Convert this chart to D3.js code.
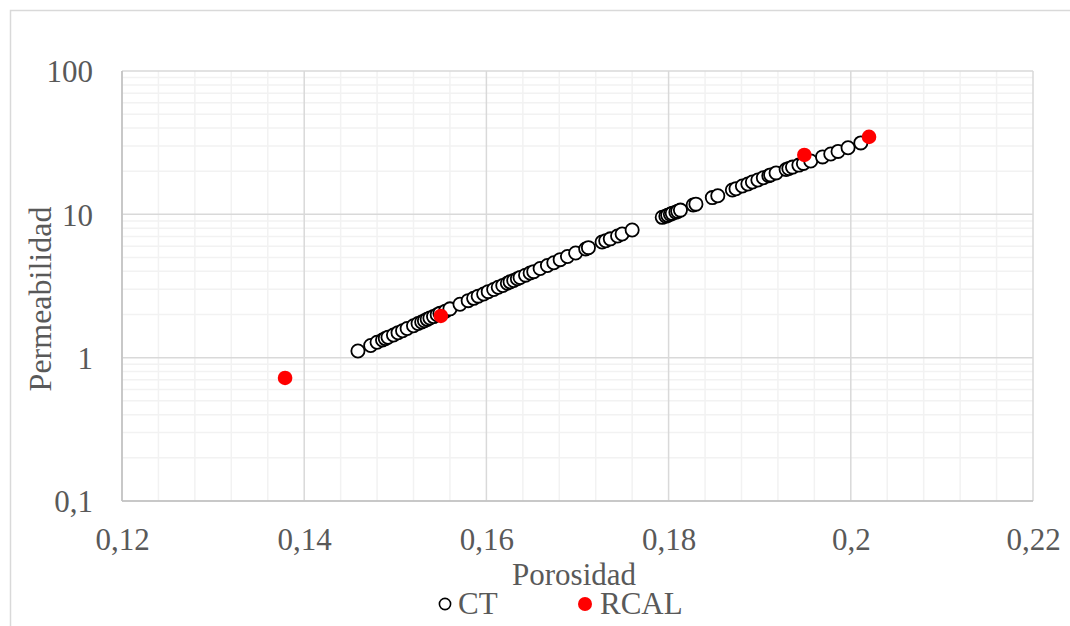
<!DOCTYPE html>
<html>
<head>
<meta charset="utf-8">
<script src="https://cdn.jsdelivr.net/npm/d3@7"></script>
<style>
html,body{margin:0;padding:0;background:#fff;}
svg{display:block;}
text{font-family:"Liberation Serif","Times New Roman",serif;fill:#595959;}
</style>
</head>
<body>
<svg id="chart" width="1070" height="626"></svg>
<script>
// ---- data ----
const ctPorosity = [0.1459,0.1473,0.1480,0.1486,0.1489,0.1492,0.1498,0.1503,0.1508,0.1513,0.1520,0.1525,0.1529,0.1532,0.1535,0.1538,0.1542,0.1546,0.1549,0.1555,0.1560,0.1571,0.1580,0.1586,0.1591,0.1597,0.1602,0.1608,0.1613,0.1618,0.1623,0.1626,0.1630,0.1634,0.1637,0.1643,0.1648,0.1652,0.1659,0.1667,0.1674,0.1681,0.1689,0.1698,0.1709,0.1712,0.1727,0.1731,0.1736,0.1744,0.1749,0.1760,0.1793,0.1797,0.1799,0.1802,0.1804,0.1808,0.1810,0.1813,0.1827,0.1830,0.1848,0.1854,0.1870,0.1874,0.1881,0.1887,0.1892,0.1898,0.1904,0.1910,0.1912,0.1918,0.1929,0.1932,0.1936,0.1943,0.1948,0.1956,0.1969,0.1978,0.1986,0.1997,0.2011];
const ctPermeability = [1.114,1.216,1.281,1.329,1.359,1.388,1.440,1.494,1.541,1.596,1.670,1.733,1.772,1.809,1.851,1.892,1.935,1.993,2.038,2.111,2.190,2.359,2.499,2.594,2.687,2.783,2.888,2.992,3.099,3.190,3.305,3.381,3.451,3.553,3.628,3.765,3.901,3.983,4.185,4.399,4.595,4.830,5.077,5.379,5.734,5.855,6.409,6.535,6.745,7.067,7.297,7.783,9.53,9.71,9.84,10.03,10.16,10.36,10.49,10.70,11.63,11.78,13.08,13.48,14.80,15.09,15.77,16.27,16.80,17.35,18.01,18.60,18.84,19.45,20.54,20.87,21.35,22.05,22.66,23.55,25.16,26.36,27.48,29.16,31.50];
const rcalPorosity = [0.1379,0.1550,0.1949,0.2020];
const rcalPermeability = [0.722,1.955,25.97,34.7];
const xTicks = [0.12,0.14,0.16,0.18,0.20,0.22];
const xTickLabels = ["0,12","0,14","0,16","0,18","0,2","0,22"];
const yTicks = [0.1,1,10,100];
const yTickLabels = ["0,1","1","10","100"];
const seriesNames = ["CT","RCAL"];
const xTitle = "Porosidad";
const yTitle = "Permeabilidad";

// ---- layout ----
const svg = d3.select("#chart");
const L = 122, R = 1033, T = 71, B = 501;
const FS = 31;
const x = d3.scaleLinear().domain([0.12,0.22]).range([L,R]);
const y = d3.scaleLog().domain([0.1,100]).range([B,T]);

// outer chart border
svg.append("rect").attr("x",10.5).attr("y",10.5).attr("width",1100).attr("height",700)
  .attr("fill","#fff").attr("stroke","#d9d9d9").attr("stroke-width",1.5);

// minor gridlines
const xMinor = d3.range(0.12,0.2201,0.004).filter(v => Math.abs(Math.round(v/0.02)*0.02 - v) > 1e-6);
const yMinor = [];
[0.1,1,10].forEach(d => { for (let m=2;m<=9;m++) yMinor.push(d*m); });
const grid = svg.append("g");
grid.selectAll(".xm").data(xMinor).enter().append("line")
  .attr("x1",d=>x(d)).attr("x2",d=>x(d)).attr("y1",T).attr("y2",B)
  .attr("stroke","#f2f2f2").attr("stroke-width",1.5);
grid.selectAll(".ym").data(yMinor).enter().append("line")
  .attr("x1",L).attr("x2",R).attr("y1",d=>y(d)).attr("y2",d=>y(d))
  .attr("stroke","#f2f2f2").attr("stroke-width",1.5);
// major gridlines
grid.selectAll(".xM").data(xTicks).enter().append("line")
  .attr("x1",d=>x(d)).attr("x2",d=>x(d)).attr("y1",T).attr("y2",B)
  .attr("stroke","#d9d9d9").attr("stroke-width",1.5);
grid.selectAll(".yM").data(yTicks).enter().append("line")
  .attr("x1",L).attr("x2",R).attr("y1",d=>y(d)).attr("y2",d=>y(d))
  .attr("stroke","#d9d9d9").attr("stroke-width",1.5);
// axis lines
svg.append("line").attr("x1",L).attr("x2",L).attr("y1",T).attr("y2",B).attr("stroke","#bfbfbf").attr("stroke-width",1.5);
svg.append("line").attr("x1",L).attr("x2",R).attr("y1",B).attr("y2",B).attr("stroke","#bfbfbf").attr("stroke-width",1.5);

// axes tick labels via d3 axes
const xAxis = d3.axisBottom(x).tickValues(xTicks).tickSize(0).tickPadding(0)
  .tickFormat((d,i)=>xTickLabels[i]);
const gx = svg.append("g").attr("transform",`translate(0,${B})`).call(xAxis);
gx.select(".domain").remove();
gx.selectAll("text").attr("font-size",FS).attr("dy",null).attr("y",49)
  .style("font-family","'Liberation Serif',serif").attr("fill","#595959");

const yAxis = d3.axisLeft(y).tickValues(yTicks).tickSize(0).tickPadding(0)
  .tickFormat((d,i)=>yTickLabels[i]);
const gy = svg.append("g").attr("transform",`translate(${L},0)`).call(yAxis);
gy.select(".domain").remove();
gy.selectAll("text").attr("font-size",FS).attr("x",-29).attr("dy","0.35em")
  .style("font-family","'Liberation Serif',serif").attr("fill","#595959");

// titles
svg.append("text").attr("x",574).attr("y",585).attr("text-anchor","middle").attr("font-size",FS).text(xTitle);
svg.append("text").attr("transform","translate(51,299) rotate(-90)").attr("text-anchor","middle").attr("font-size",32).text(yTitle);

// CT points
const ct = ctPorosity.map((p,i)=>({p, k:ctPermeability[i]}));
svg.append("g").selectAll("circle").data(ct).enter().append("circle")
  .attr("cx",d=>x(d.p)).attr("cy",d=>y(d.k)).attr("r",6.6)
  .attr("fill","#fff").attr("stroke","#000").attr("stroke-width",1.8);
// RCAL points
const rc = rcalPorosity.map((p,i)=>({p, k:rcalPermeability[i]}));
svg.append("g").selectAll("circle").data(rc).enter().append("circle")
  .attr("cx",d=>x(d.p)).attr("cy",d=>y(d.k)).attr("r",7.3)
  .attr("fill","#ff0000");

// legend
const lg = svg.append("g");
lg.append("circle").attr("cx",445).attr("cy",604).attr("r",5.6).attr("fill","#fff").attr("stroke","#000").attr("stroke-width",1.6);
lg.append("text").attr("x",458).attr("y",614).attr("font-size",FS).text(seriesNames[0]);
lg.append("circle").attr("cx",585).attr("cy",604).attr("r",7).attr("fill","#ff0000");
lg.append("text").attr("x",600).attr("y",614).attr("font-size",FS).text(seriesNames[1]);
</script>
</body>
</html>
